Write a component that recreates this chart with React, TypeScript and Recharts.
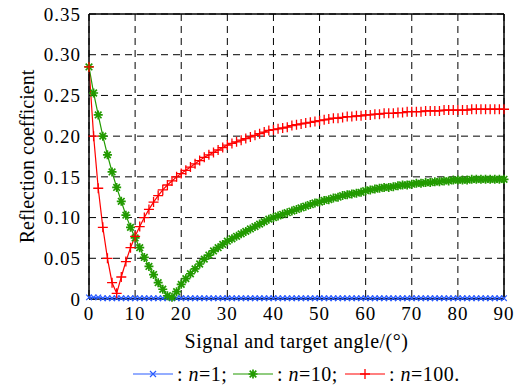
import { LineChart, Line, XAxis, YAxis, CartesianGrid, ReferenceLine } from "recharts";

const angles = [
  0, 1, 2, 3, 4, 5, 6, 7, 8, 9, 10, 11, 12, 13, 14, 15, 16, 17, 18, 19, 20,
  21, 22, 23, 24, 25, 26, 27, 28, 29, 30, 31, 32, 33, 34, 35, 36, 37, 38, 39, 40,
  41, 42, 43, 44, 45, 46, 47, 48, 49, 50, 51, 52, 53, 54, 55, 56, 57, 58, 59, 60,
  61, 62, 63, 64, 65, 66, 67, 68, 69, 70, 71, 72, 73, 74, 75, 76, 77, 78, 79, 80,
  81, 82, 83, 84, 85, 86, 87, 88, 89, 90,
];

// n = 1
const n1 = [
  0.002, 0.002, 0.002, 0.001, 0.001, 0.001, 0.001, 0.001, 0.001, 0.001, 0.001,
  0.001, 0.001, 0.001, 0.001, 0.001, 0.001, 0.001, 0.001, 0.001, 0.001,
  0.001, 0.001, 0.001, 0.001, 0.001, 0.001, 0.001, 0.001, 0.001, 0.001,
  0.001, 0.001, 0.001, 0.001, 0.001, 0.001, 0.001, 0.001, 0.001, 0.001,
  0.001, 0.001, 0.001, 0.001, 0.001, 0.001, 0.001, 0.001, 0.001, 0.001,
  0.001, 0.001, 0.001, 0.001, 0.001, 0.001, 0.001, 0.001, 0.001, 0.001,
  0.001, 0.001, 0.001, 0.001, 0.001, 0.001, 0.001, 0.001, 0.001, 0.001,
  0.001, 0.001, 0.001, 0.001, 0.001, 0.001, 0.001, 0.001, 0.001, 0.001,
  0.001, 0.001, 0.001, 0.001, 0.001, 0.001, 0.001, 0.001, 0.001, 0.001,
];

// n = 10
const n10 = [
  0.285, 0.253, 0.226, 0.2, 0.177, 0.156, 0.137, 0.12, 0.103, 0.088, 0.075,
  0.063, 0.051, 0.04, 0.03, 0.02, 0.012, 0.004, 0.002, 0.009, 0.018,
  0.025, 0.031, 0.037, 0.043, 0.049, 0.054, 0.059, 0.063, 0.067, 0.071,
  0.074, 0.077, 0.08, 0.083, 0.086, 0.089, 0.092, 0.095, 0.098, 0.1,
  0.102, 0.104, 0.106, 0.108, 0.11, 0.112, 0.114, 0.116, 0.118, 0.119,
  0.121, 0.122, 0.124, 0.125, 0.127, 0.128, 0.129, 0.13, 0.131, 0.133,
  0.134, 0.135, 0.136, 0.137, 0.137, 0.138, 0.139, 0.14, 0.14, 0.141,
  0.142, 0.142, 0.143, 0.143, 0.144, 0.144, 0.145, 0.145, 0.146, 0.146,
  0.146, 0.146, 0.147, 0.147, 0.147, 0.147, 0.147, 0.147, 0.147, 0.147,
];

// n = 100
const n100 = [
  0.285, 0.2, 0.136, 0.088, 0.05, 0.02, 0.007, 0.027, 0.046, 0.063, 0.077,
  0.089, 0.1, 0.11, 0.119, 0.127, 0.134, 0.14, 0.145, 0.15, 0.154,
  0.158, 0.162, 0.166, 0.17, 0.174, 0.177, 0.18, 0.183, 0.186, 0.189,
  0.191, 0.193, 0.195, 0.197, 0.199, 0.201, 0.203, 0.205, 0.207, 0.208,
  0.209, 0.21, 0.211, 0.213, 0.214, 0.215, 0.216, 0.217, 0.218, 0.219,
  0.22, 0.221, 0.222, 0.222, 0.223, 0.224, 0.224, 0.225, 0.225, 0.226,
  0.226, 0.227, 0.227, 0.228, 0.228, 0.228, 0.229, 0.229, 0.23, 0.23,
  0.23, 0.23, 0.231, 0.231, 0.231, 0.231, 0.232, 0.232, 0.232, 0.232,
  0.232, 0.232, 0.233, 0.233, 0.233, 0.233, 0.233, 0.233, 0.233, 0.233,
];

const xTicks = [0, 10, 20, 30, 40, 50, 60, 70, 80, 90];
const yTicks = [0, 0.05, 0.1, 0.15, 0.2, 0.25, 0.3, 0.35];

const data = angles.map((a, i) => ({ angle: a, n1: n1[i], n10: n10[i], n100: n100[i] }));

const BLUE = "#2a5cff";
const GREEN = "#229a00";
const RED = "#ff0000";
const FONT = "Liberation Serif";

const XMark = (props: any) => {
  const { cx, cy, index } = props;
  if (cx == null || cy == null) return <g key={index} />;
  const s = 2.8;
  return (
    <path
      key={index}
      d={`M${cx - s},${cy - s}L${cx + s},${cy + s}M${cx - s},${cy + s}L${cx + s},${cy - s}`}
      stroke={BLUE}
      strokeWidth={1.2}
      fill="none"
    />
  );
};

const StarMark = (props: any) => {
  const { cx, cy, index } = props;
  if (cx == null || cy == null) return <g key={index} />;
  const s = 4.5;
  const d = 3.3;
  return (
    <path
      key={index}
      d={`M${cx - s},${cy}L${cx + s},${cy}M${cx},${cy - s}L${cx},${cy + s}M${cx - d},${cy - d}L${cx + d},${cy + d}M${cx - d},${cy + d}L${cx + d},${cy - d}`}
      stroke={GREEN}
      strokeWidth={1.7}
      fill="none"
    />
  );
};

const PlusMark = (props: any) => {
  const { cx, cy, index } = props;
  if (cx == null || cy == null) return <g key={index} />;
  const s = 5;
  return (
    <path
      key={index}
      d={`M${cx - s},${cy}L${cx + s},${cy}M${cx},${cy - s}L${cx},${cy + s}`}
      stroke={RED}
      strokeWidth={1.3}
      fill="none"
    />
  );
};

const LegendItem = ({ left, color, mark, label }: { left: number; color: string; mark: string; label: string }) => (
  <div style={{ position: "absolute", left, top: 0, display: "flex", alignItems: "center", height: 24 }}>
    <svg width={40} height={12} style={{ marginRight: 4 }}>
      <line x1={0} y1={6} x2={40} y2={6} stroke={color} strokeWidth={1.2} />
      {mark === "x" && <path d="M17,3L23,9M17,9L23,3" stroke={color} strokeWidth={1.2} />}
      {mark === "*" && (
        <path d="M15.5,6L24.5,6M20,1.5L20,10.5M16.7,2.7L23.3,9.3M16.7,9.3L23.3,2.7" stroke={color} strokeWidth={1.7} />
      )}
      {mark === "+" && <path d="M15,6L25,6M20,1L20,11" stroke={color} strokeWidth={1.3} />}
    </svg>
    <span>
      : <i>n</i>={label}
    </span>
  </div>
);

export default function App() {
  return (
    <div style={{ position: "absolute", left: 0, top: 0, width: 521, height: 387, background: "#fff" }}>
      <LineChart
        width={521}
        height={387}
        data={data}
        margin={{ top: 14, right: 17, left: 0, bottom: 0 }}
      >
        <CartesianGrid stroke="#000" strokeDasharray="7 5" strokeWidth={1} />
        <XAxis
          dataKey="angle"
          type="number"
          domain={[0, 90]}
          ticks={xTicks}
          height={88}
          tickLine={false}
          axisLine={{ stroke: "#000", strokeWidth: 1.5 }}
          tick={{ fill: "#000", fontSize: 19, fontFamily: FONT, letterSpacing: 1 }}
          label={{
            value: "Signal and target angle/(°)",
            position: "insideBottom",
            offset: 39,
            fontFamily: FONT,
            fontSize: 20,
            letterSpacing: 0.5,
            fill: "#000",
          }}
        />
        <YAxis
          type="number"
          domain={[0, 0.35]}
          ticks={yTicks}
          width={89}
          tickLine={false}
          axisLine={{ stroke: "#000", strokeWidth: 1.5 }}
          tick={{ fill: "#000", fontSize: 19, fontFamily: FONT, letterSpacing: 1 }}
          tickFormatter={(v: number) => (v === 0 ? "0" : v.toFixed(2))}
          label={{
            value: "Reflection coefficient",
            angle: -90,
            position: "insideLeft",
            offset: 27,
            fontFamily: FONT,
            fontSize: 20,
            fill: "#000",
            style: { textAnchor: "middle" },
          }}
        />
        <ReferenceLine y={0.35} stroke="#000" strokeWidth={1.5} />
        <ReferenceLine x={90} stroke="#000" strokeWidth={1.5} />
        <Line dataKey="n1" stroke={BLUE} strokeWidth={1.2} dot={XMark} activeDot={false} isAnimationActive={false} />
        <Line dataKey="n10" stroke={GREEN} strokeWidth={1.2} dot={StarMark} activeDot={false} isAnimationActive={false} />
        <Line dataKey="n100" stroke={RED} strokeWidth={1.2} dot={PlusMark} activeDot={false} isAnimationActive={false} />
      </LineChart>
      <div
        style={{
          position: "absolute",
          left: 0,
          top: 362,
          width: 521,
          height: 24,
          fontFamily: FONT,
          fontSize: 20,
          letterSpacing: 0.5,
          color: "#000",
          whiteSpace: "nowrap",
          lineHeight: "24px",
        }}
      >
        <LegendItem left={133} color={BLUE} mark="x" label="1;" />
        <LegendItem left={233} color={GREEN} mark="*" label="10;" />
        <LegendItem left={345} color={RED} mark="+" label="100." />
      </div>
    </div>
  );
}
